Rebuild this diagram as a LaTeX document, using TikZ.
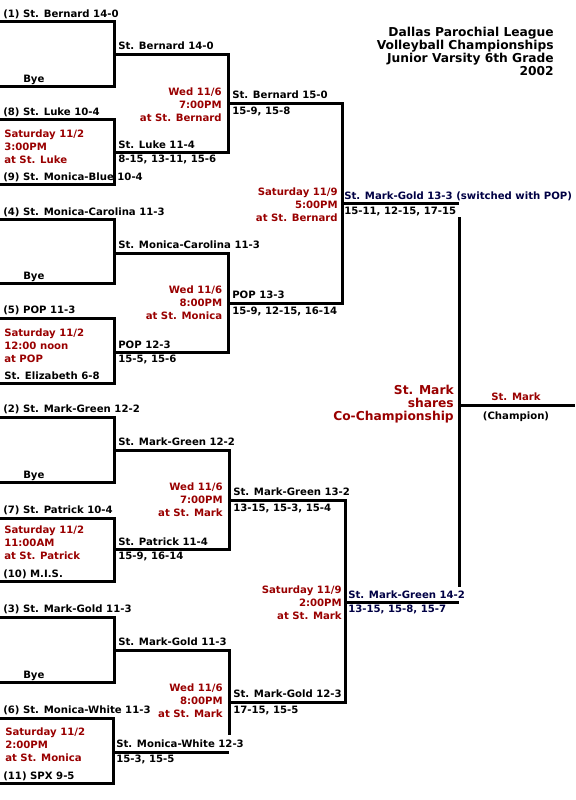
\documentclass[tikz,border=0pt]{standalone}
\usepackage{fontspec}
\setmainfont{DejaVu Sans}
\usepackage{tikz}
\definecolor{wine}{HTML}{990000}
\definecolor{semis}{HTML}{000044}
\newcommand{\bt}{\fontsize{7.6pt}{9.75pt}\selectfont\bfseries}
\newcommand{\bigt}{\fontsize{9.2pt}{9.75pt}\selectfont\bfseries}

\begin{document}
\begin{tikzpicture}[x=0.75pt,y=-0.75pt,
  ln/.style={line width=2.25pt},
  tm/.style={anchor=base west, inner sep=0pt, font=\bt},
  sc/.style={anchor=base west, inner sep=0pt, font=\bt},
  when/.style={anchor=base west, inner sep=0pt, font=\bt, text=wine, align=left},
  whenr/.style={anchor=base east, inner sep=0pt, font=\bt, text=wine, align=right},
  ttl/.style={anchor=base east, inner sep=0pt, font=\bigt, align=right}]
\useasboundingbox (0,0) rectangle (575,800);
% leaves
\coordinate (a1) at (0,21);   \coordinate (a2) at (0,86);
\coordinate (a3) at (0,119);  \coordinate (a4) at (0,184);
\coordinate (a5) at (0,219);  \coordinate (a6) at (0,283);
\coordinate (a7) at (0,318);  \coordinate (a8) at (0,383);
\coordinate (a9) at (0,417);  \coordinate (a10) at (0,482);
\coordinate (a11) at (0,518); \coordinate (a12) at (0,581);
\coordinate (a13) at (0,617); \coordinate (a14) at (0,682);
\coordinate (a15) at (0,718); \coordinate (a16) at (0,783);
% first round
\coordinate (m1) at (114,54);  \coordinate (m2) at (114,152);
\coordinate (m3) at (114,253); \coordinate (m4) at (114,352);
\coordinate (m5) at (114,450); \coordinate (m6) at (114,549);
\coordinate (m7) at (114,650); \coordinate (m8) at (113,752);
% quarters, semis, final
\coordinate (q1) at (228,103); \coordinate (q2) at (228,303);
\coordinate (q3) at (229,500); \coordinate (q4) at (229,702);
\coordinate (g4) at (229,735);
\coordinate (r1) at (342,203); \coordinate (r2) at (345,602);
\coordinate (fin) at (459,405); \coordinate (ftop) at (459,217);
\coordinate (fbot) at (459,587); \coordinate (champ) at (575,405);

\draw[ln] (a1) -| (m1) |- (a2);   \draw[ln] (a3) -| (m2) |- (a4);
\draw[ln] (a5) -| (m3) |- (a6);   \draw[ln] (a7) -| (m4) |- (a8);
\draw[ln] (a9) -| (m5) |- (a10);  \draw[ln] (a11) -| (m6) |- (a12);
\draw[ln] (a13) -| (m7) |- (a14); \draw[ln] (a15) -| (m8) |- (a16);
\draw[ln] (m1) -| (q1) |- (m2);   \draw[ln] (m3) -| (q2) |- (m4);
\draw[ln] (m5) -| (q3) |- (m6);
\draw[ln] (m7) -| (q4) -- (g4);   \draw[ln] (m8) -- (m8 -| g4);
\draw[ln] (q1) -| (r1) |- (q2);   \draw[ln] (q3) -| (r2) |- (q4);
\draw[ln] (r1) -- (r1 -| fin);    \draw[ln] (r2) -- (r2 -| fin);
\draw[ln] (ftop) -- (fbot);       \draw[ln] (fin) -- (champ);

% title
\node[ttl] (title) at (554,75) {Dallas Parochial League\\Volleyball Championships\\Junior Varsity 6th Grade\\2002};

% block 1
\node[tm] (t1) at (3,17) {(1) St. Bernard 14-0};
\node[tm] (t2) at (23,82) {Bye};
\node[tm] (t3) at (3,115) {(8) St. Luke 10-4};
\node[when] (d1) at (4,163) {Saturday 11/2\\3:00PM\\at St. Luke};
\node[tm] (t4) at (3,180) {(9) St. Monica-Blue 10-4};
\node[tm] (w1) at (118,49.5) {St. Bernard 14-0};
\node[tm] (w2) at (118,148) {St. Luke 11-4};
\node[sc] (s2) at (118,162) {8-15, 13-11, 15-6};
\node[whenr] (e1) at (222,121) {Wed 11/6\\7:00PM\\at St. Bernard};
\node[tm] (v1) at (232,98.5) {St. Bernard 15-0};
\node[sc] (u1) at (232,114) {15-9, 15-8};

% block 2
\node[tm] (t5) at (3,215) {(4) St. Monica-Carolina 11-3};
\node[tm] (t6) at (23,279) {Bye};
\node[tm] (t7) at (3,313.5) {(5) POP 11-3};
\node[when] (d2) at (4,362) {Saturday 11/2\\12:00 noon\\at POP};
\node[tm] (t8) at (4,379) {St. Elizabeth 6-8};
\node[tm] (w3) at (118,248.5) {St. Monica-Carolina 11-3};
\node[tm] (w4) at (118,348) {POP 12-3};
\node[sc] (s4) at (118,362) {15-5, 15-6};
\node[whenr] (e2) at (222.5,319.5) {Wed 11/6\\8:00PM\\at St. Monica};
\node[tm] (v2) at (232,298.5) {POP 13-3};
\node[sc] (u2) at (232,314) {15-9, 12-15, 16-14};

% block 3
\node[tm] (t9) at (3,412.5) {(2) St. Mark-Green 12-2};
\node[tm] (t10) at (23,478) {Bye};
\node[tm] (t11) at (3,513.5) {(7) St. Patrick 10-4};
\node[when] (d3) at (4,559) {Saturday 11/2\\11:00AM\\at St. Patrick};
\node[tm] (t12) at (3,577) {(10) M.I.S.};
\node[tm] (w5) at (118,445.5) {St. Mark-Green 12-2};
\node[tm] (w6) at (118,545.5) {St. Patrick 11-4};
\node[sc] (s6) at (118,559.5) {15-9, 16-14};
\node[whenr] (e3) at (223,516) {Wed 11/6\\7:00PM\\at St. Mark};
\node[tm] (v3) at (233,495.5) {St. Mark-Green 13-2};
\node[sc] (u3) at (233,511) {13-15, 15-3, 15-4};

% block 4
\node[tm] (t13) at (3,612.5) {(3) St. Mark-Gold 11-3};
\node[tm] (t14) at (23,678) {Bye};
\node[tm] (t15) at (3,713.5) {(6) St. Monica-White 11-3};
\node[when] (d4) at (5,761) {Saturday 11/2\\2:00PM\\at St. Monica};
\node[tm] (t16) at (3,779) {(11) SPX 9-5};
\node[tm] (w7) at (118,645.5) {St. Mark-Gold 11-3};
\node[tm] (w8) at (116,747.5) {St. Monica-White 12-3};
\node[sc] (s8) at (116,762) {15-3, 15-5};
\node[whenr] (e4) at (223,717.5) {Wed 11/6\\8:00PM\\at St. Mark};
\node[tm] (v4) at (233,697.5) {St. Mark-Gold 12-3};
\node[sc] (u4) at (233,713) {17-15, 15-5};

% semis
\node[whenr] (f1) at (338,221) {Saturday 11/9\\5:00PM\\at St. Bernard};
\node[tm, text=semis] (x1) at (344,199.5) {St. Mark-Gold 13-3 (switched with POP)};
\node[sc] (y1) at (344,214) {15-11, 12-15, 17-15};
\node[whenr] (f2) at (342,619.5) {Saturday 11/9\\2:00PM\\at St. Mark};
\node[tm, text=semis] (x2) at (348,598.5) {St. Mark-Green 14-2};
\node[sc, text=semis] (y2) at (348,612.5) {13-15, 15-8, 15-7};

% final
\node[ttl, text=wine] (co) at (454,420.5) {St. Mark\\shares\\Co-Championship};
\node[anchor=base, inner sep=0pt, font=\bt, text=wine] (cw) at (516,400.5) {St. Mark};
\node[anchor=base, inner sep=0pt, font=\bt] (cl) at (516,419.5) {(Champion)};
\end{tikzpicture}
\end{document}
